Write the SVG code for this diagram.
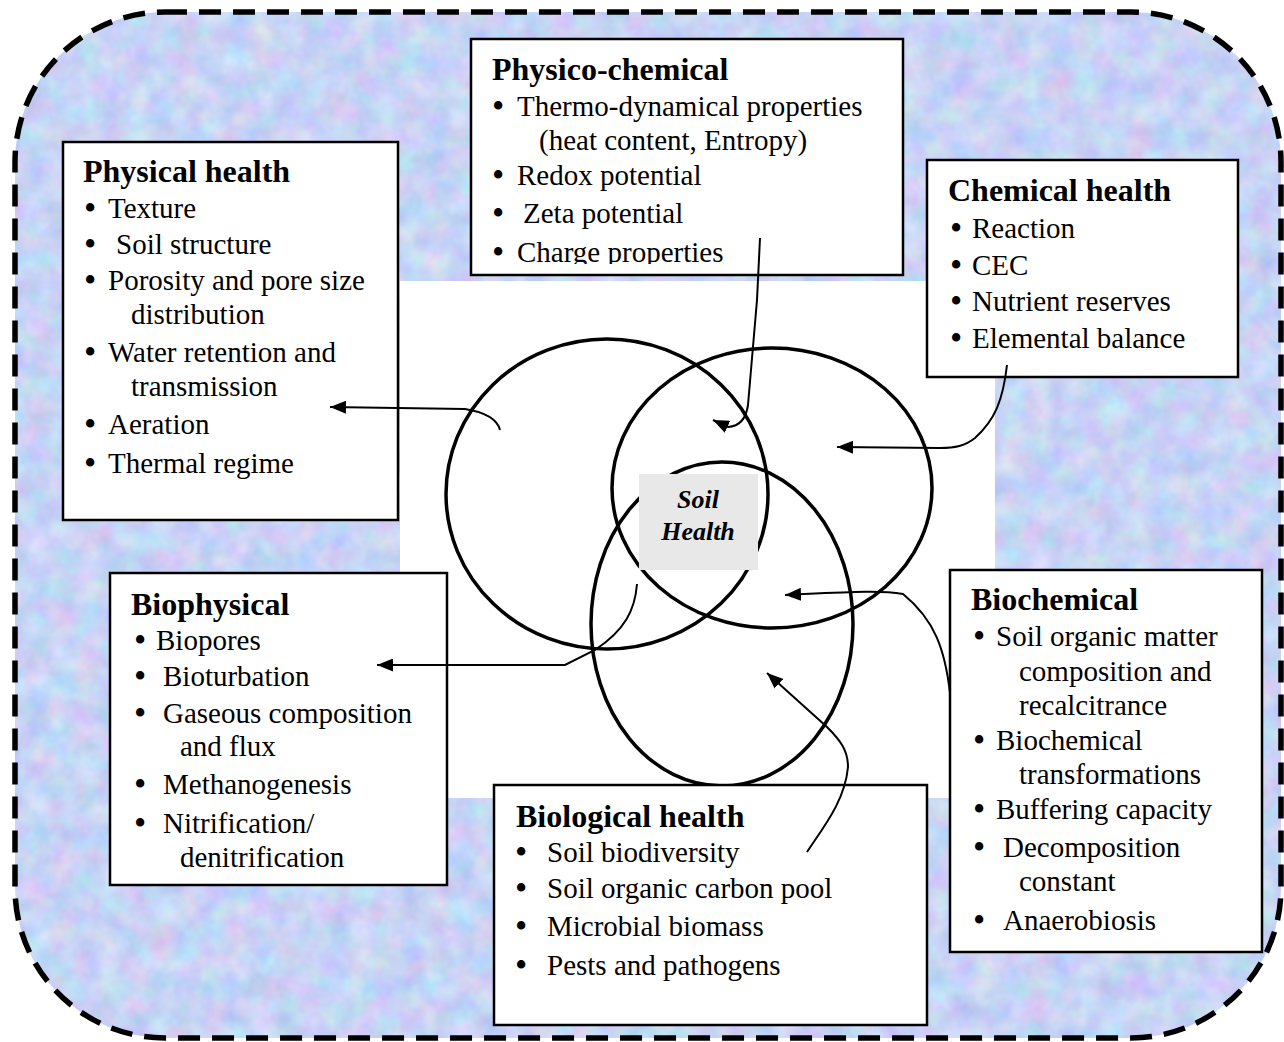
<svg xmlns="http://www.w3.org/2000/svg" width="1284" height="1042" viewBox="0 0 1284 1042">
  <style>
    .box { fill: #ffffff; stroke: #000000; stroke-width: 2.5; }
    .ring { fill: none; stroke: #000000; stroke-width: 3.5; }
    .link { fill: none; stroke: #000000; stroke-width: 2; marker-end: url(#head); }
    text { font-family: "Liberation Serif", "Times New Roman", serif; fill: #000000; }
    .title { font-size: 32px; font-weight: bold; }
    .item { font-size: 29px; }
    .dot { font-size: 35px; }
    .core { font-size: 26px; font-weight: bold; font-style: italic; }
  </style>
  <defs>
    <filter id="grain" x="0" y="0" width="1" height="1" color-interpolation-filters="sRGB">
      <feTurbulence type="fractalNoise" baseFrequency="0.04" numOctaves="3" seed="7"/>
      <feColorMatrix type="matrix" values="0.28 0 0 0 0.64  0 0.22 0 0 0.72  0 0 0.12 0 0.9  0 0 0 0 1"/>
    </filter>
    <clipPath id="frameClip">
      <rect x="15" y="12" width="1266" height="1026" rx="150" ry="150"/>
    </clipPath>
    <clipPath id="pcClip">
      <rect x="471" y="39" width="432" height="225"/>
    </clipPath>
    <marker id="head" markerUnits="userSpaceOnUse" markerWidth="17" markerHeight="13" refX="16" refY="6.5" orient="auto">
      <path d="M0,0 L16,6.5 L0,13 z" fill="#000000"/>
    </marker>
  </defs>

  <!-- textured backdrop inside the dashed rounded frame -->
  <g id="frame">
    <g clip-path="url(#frameClip)">
      <rect x="15" y="12" width="1266" height="1026" filter="url(#grain)"/>
    </g>
    <rect x="15" y="12" width="1266" height="1026" rx="150" ry="150" fill="none" stroke="#000000" stroke-width="5.5" stroke-dasharray="22 12"/>
  </g>

  <!-- plain panel behind the overlapping rings -->
  <rect id="panel" x="400" y="281" width="595" height="517" fill="#ffffff"/>

  <g id="rings">
    <ellipse class="ring" cx="607" cy="494" rx="161" ry="155"/>
    <ellipse class="ring" cx="772" cy="488" rx="160" ry="140"/>
    <ellipse class="ring" cx="722" cy="624" rx="131" ry="162"/>
  </g>

  <g id="soil-health">
    <rect x="639" y="474" width="119" height="96" fill="#e8e8e8"/>
    <text class="core" x="698" y="508" text-anchor="middle">Soil</text>
    <text class="core" x="698" y="540" text-anchor="middle">Health</text>
  </g>

  <!-- bullet lines: a larger bullet glyph, then the entry at its own x -->
  <g id="physical-health">
    <rect class="box" x="63" y="142" width="335" height="378"/>
    <text class="title" x="83" y="182">Physical health</text>
    <text class="item" y="218"><tspan class="dot" x="84" dy="2">•</tspan><tspan x="108" dy="-2">Texture</tspan></text>
    <text class="item" y="254"><tspan class="dot" x="84" dy="2">•</tspan><tspan x="116" dy="-2">Soil structure</tspan></text>
    <text class="item" y="290"><tspan class="dot" x="84" dy="2">•</tspan><tspan x="108" dy="-2">Porosity and pore size</tspan></text>
    <text class="item" x="131" y="324">distribution</text>
    <text class="item" y="362"><tspan class="dot" x="84" dy="2">•</tspan><tspan x="108" dy="-2">Water retention and</tspan></text>
    <text class="item" x="131" y="396">transmission</text>
    <text class="item" y="434"><tspan class="dot" x="84" dy="2">•</tspan><tspan x="108" dy="-2">Aeration</tspan></text>
    <text class="item" y="473"><tspan class="dot" x="84" dy="2">•</tspan><tspan x="108" dy="-2">Thermal regime</tspan></text>
  </g>

  <g id="physico-chemical">
    <rect class="box" x="471" y="39" width="432" height="236"/>
    <g clip-path="url(#pcClip)">
      <text class="title" x="492" y="80">Physico-chemical</text>
      <text class="item" y="116"><tspan class="dot" x="492" dy="2">•</tspan><tspan x="517" dy="-2">Thermo-dynamical properties</tspan></text>
      <text class="item" x="539" y="150">(heat content, Entropy)</text>
      <text class="item" y="185"><tspan class="dot" x="492" dy="2">•</tspan><tspan x="517" dy="-2">Redox potential</tspan></text>
      <text class="item" y="223"><tspan class="dot" x="492" dy="2">•</tspan><tspan x="523" dy="-2">Zeta potential</tspan></text>
      <text class="item" y="262"><tspan class="dot" x="492" dy="2">•</tspan><tspan x="517" dy="-2">Charge properties</tspan></text>
    </g>
  </g>

  <g id="chemical-health">
    <rect class="box" x="927" y="160" width="311" height="217"/>
    <text class="title" x="948" y="201">Chemical health</text>
    <text class="item" y="238"><tspan class="dot" x="950" dy="2">•</tspan><tspan x="972" dy="-2">Reaction</tspan></text>
    <text class="item" y="275"><tspan class="dot" x="950" dy="2">•</tspan><tspan x="972" dy="-2">CEC</tspan></text>
    <text class="item" y="311"><tspan class="dot" x="950" dy="2">•</tspan><tspan x="972" dy="-2">Nutrient reserves</tspan></text>
    <text class="item" y="348"><tspan class="dot" x="950" dy="2">•</tspan><tspan x="972" dy="-2">Elemental balance</tspan></text>
  </g>

  <g id="biophysical">
    <rect class="box" x="110" y="573" width="337" height="312"/>
    <text class="title" x="131" y="615">Biophysical</text>
    <text class="item" y="650"><tspan class="dot" x="134" dy="2">•</tspan><tspan x="156" dy="-2">Biopores</tspan></text>
    <text class="item" y="686"><tspan class="dot" x="134" dy="2">•</tspan><tspan x="163" dy="-2">Bioturbation</tspan></text>
    <text class="item" y="723"><tspan class="dot" x="134" dy="2">•</tspan><tspan x="163" dy="-2">Gaseous composition</tspan></text>
    <text class="item" x="180" y="756">and flux</text>
    <text class="item" y="794"><tspan class="dot" x="134" dy="2">•</tspan><tspan x="163" dy="-2">Methanogenesis</tspan></text>
    <text class="item" y="833"><tspan class="dot" x="134" dy="2">•</tspan><tspan x="163" dy="-2">Nitrification/</tspan></text>
    <text class="item" x="180" y="867">denitrification</text>
  </g>

  <g id="biological-health">
    <rect class="box" x="494" y="785" width="433" height="240"/>
    <text class="title" x="516" y="827">Biological health</text>
    <text class="item" y="862"><tspan class="dot" x="515" dy="2">•</tspan><tspan x="547" dy="-2">Soil biodiversity</tspan></text>
    <text class="item" y="898"><tspan class="dot" x="515" dy="2">•</tspan><tspan x="547" dy="-2">Soil organic carbon pool</tspan></text>
    <text class="item" y="936"><tspan class="dot" x="515" dy="2">•</tspan><tspan x="547" dy="-2">Microbial biomass</tspan></text>
    <text class="item" y="975"><tspan class="dot" x="515" dy="2">•</tspan><tspan x="547" dy="-2">Pests and pathogens</tspan></text>
  </g>

  <g id="biochemical">
    <rect class="box" x="950" y="570" width="312" height="382"/>
    <text class="title" x="971" y="610">Biochemical</text>
    <text class="item" y="646"><tspan class="dot" x="973" dy="2">•</tspan><tspan x="996" dy="-2">Soil organic matter</tspan></text>
    <text class="item" x="1019" y="681">composition and</text>
    <text class="item" x="1019" y="715">recalcitrance</text>
    <text class="item" y="750"><tspan class="dot" x="973" dy="2">•</tspan><tspan x="996" dy="-2">Biochemical</tspan></text>
    <text class="item" x="1019" y="784">transformations</text>
    <text class="item" y="819"><tspan class="dot" x="973" dy="2">•</tspan><tspan x="996" dy="-2">Buffering capacity</tspan></text>
    <text class="item" y="857"><tspan class="dot" x="973" dy="2">•</tspan><tspan x="1003" dy="-2">Decomposition</tspan></text>
    <text class="item" x="1019" y="891">constant</text>
    <text class="item" y="930"><tspan class="dot" x="973" dy="2">•</tspan><tspan x="1003" dy="-2">Anaerobiosis</tspan></text>
  </g>

  <g id="connectors">
    <path class="link" d="M500,430 Q496,414 465,409 L330,407"/>
    <path class="link" d="M760,238 L757,300 L748,405 Q745,426 728,427 L713,420"/>
    <path class="link" d="M1007,365 C1003,400 995,420 975,438 C965,446 955,448 940,448 L837,447"/>
    <path class="link" d="M637,584 C635,610 625,630 595,650 L565,665 L377,665"/>
    <path class="link" d="M950,693 C945,650 935,620 903,594 C880,590 850,592 785,595"/>
    <path class="link" d="M807,852 C825,825 845,800 848,767 C848,750 840,740 827,727 L767,673"/>
  </g>
</svg>
